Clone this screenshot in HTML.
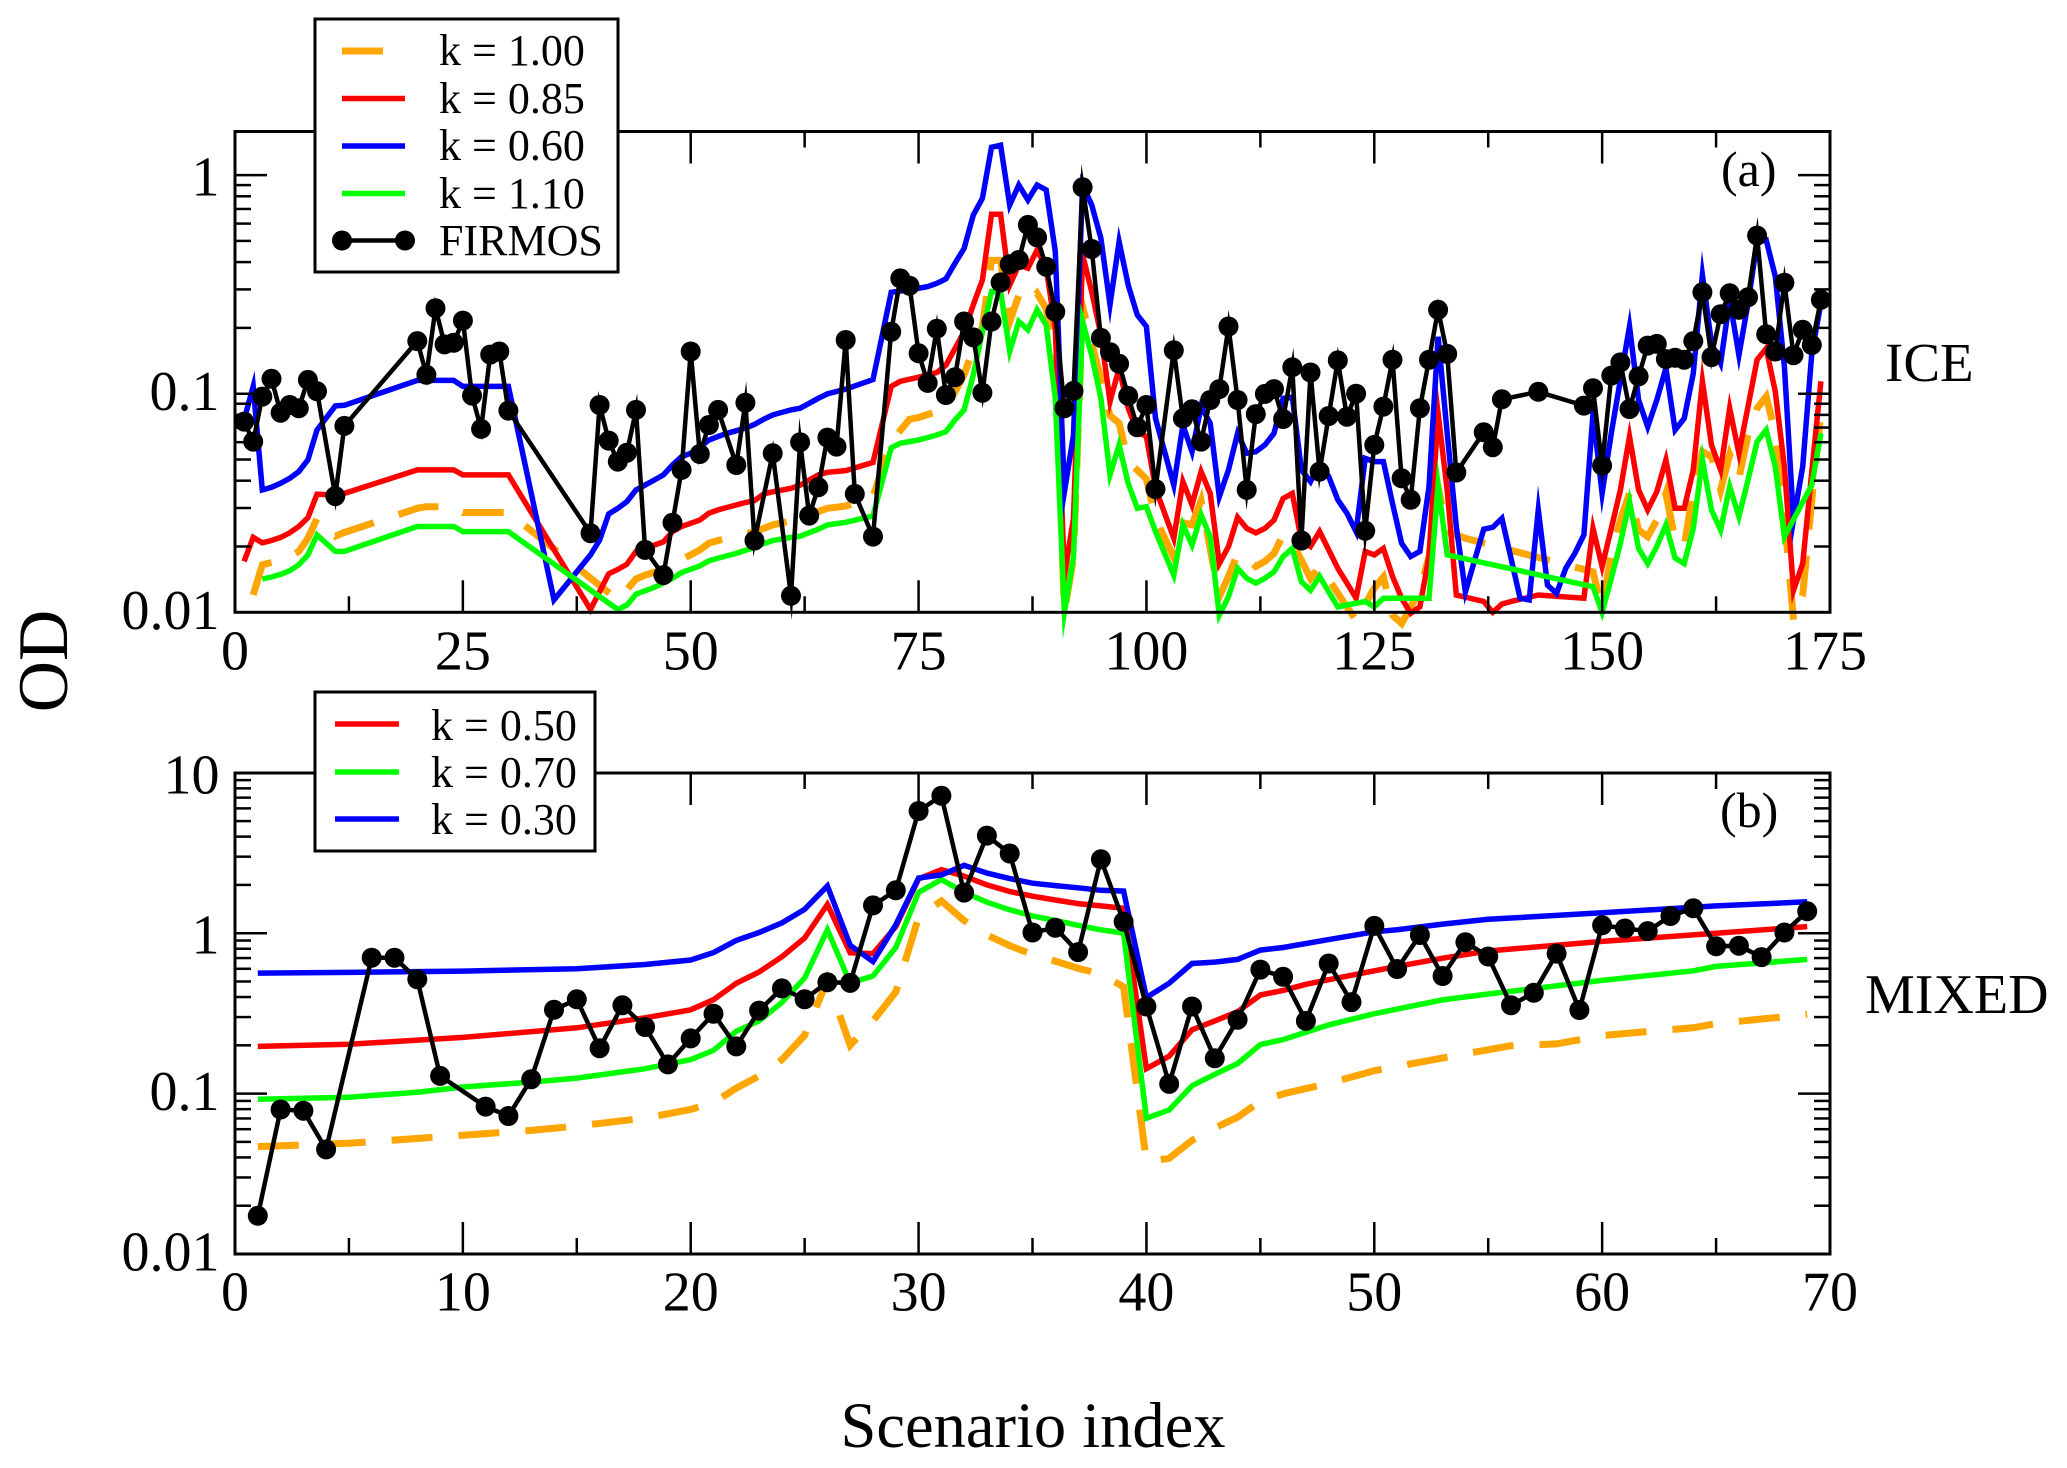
<!DOCTYPE html>
<html lang="en">
<head>
<meta charset="utf-8">
<title>OD versus scenario index</title>
<style>
html,body{margin:0;padding:0;background:#fff;}
svg{display:block;}
text{font-family:"Liberation Serif",serif;fill:#000;}
</style>
</head>
<body>
<svg id="chart" xmlns="http://www.w3.org/2000/svg" width="2067" height="1468" viewBox="0 0 2067 1468">
  <rect x="0" y="0" width="2067" height="1468" fill="#fff"/>
  <g id="panel-a"></g>
  <g id="panel-b"></g>

  <g>
    <rect x="315" y="19" width="303" height="253" fill="#fff" stroke="#000" stroke-width="3"/>
    <line x1="342" y1="51" x2="383" y2="51" stroke="#ffa500" stroke-width="7"/>
    <text x="439" y="65" font-size="44">k = 1.00</text>
    <line x1="342" y1="98.5" x2="405" y2="98.5" stroke="#ff0000" stroke-width="5.5"/>
    <text x="439" y="113" font-size="44">k = 0.85</text>
    <line x1="342" y1="146" x2="405" y2="146" stroke="#0000ff" stroke-width="5.5"/>
    <text x="439" y="160" font-size="44">k = 0.60</text>
    <line x1="342" y1="193.5" x2="405" y2="193.5" stroke="#00ff00" stroke-width="5.5"/>
    <text x="439" y="208" font-size="44">k = 1.10</text>
    <line x1="342" y1="240.5" x2="405" y2="240.5" stroke="#000" stroke-width="4.5"/>
    <circle cx="342" cy="240.5" r="10" fill="#000"/>
    <circle cx="405" cy="240.5" r="10" fill="#000"/>
    <text x="439" y="255" font-size="44">FIRMOS</text>
  </g>

  <g>
    <rect x="315" y="692" width="280" height="159" fill="#fff" stroke="#000" stroke-width="3"/>
    <line x1="335" y1="724" x2="399" y2="724" stroke="#ff0000" stroke-width="5.5"/>
    <text x="431" y="740" font-size="44">k = 0.50</text>
    <line x1="335" y1="772" x2="399" y2="772" stroke="#00ff00" stroke-width="5.5"/>
    <text x="431" y="787" font-size="44">k = 0.70</text>
    <line x1="335" y1="819" x2="399" y2="819" stroke="#0000ff" stroke-width="5.5"/>
    <text x="431" y="834" font-size="44">k = 0.30</text>
  </g>

  <text x="1721" y="186" font-size="50">(a)</text>
  <text x="1720" y="827" font-size="50">(b)</text>
  <text x="1885" y="381" font-size="55">ICE</text>
  <text x="1865" y="1013" font-size="56">MIXED</text>
  <text transform="translate(67,661) rotate(-90)" text-anchor="middle" font-size="71">OD</text>
  <text x="1033" y="1447" text-anchor="middle" font-size="64.5">Scenario index</text>
</svg>

<script>
/* ---------- Panel (a) ICE: tick labels ---------- */
const iceXTicks = [0, 25, 50, 75, 100, 125, 150, 175];
const iceYTicks = [1, 0.1, 0.01];
const iceYTickLabels = ["1", "0.1", "0.01"];

/* ---------- Panel (a) ICE: FIRMOS retrievals ---------- */
const iceFirmosIndex = [
  1,2,3,4,5,6,7,8,9,11,12,20,21,22,23,24,25,26,27,28,29,30,
  39,40,41,42,43,44,45,47,48,49,50,51,52,53,55,56,57,59,61,62,63,64,65,66,67,68,70,
  72,73,74,75,76,77,78,79,80,81,82,83,84,85,86,87,88,89,90,91,92,93,94,95,96,97,98,99,100,101,103,104,
  105,106,107,108,109,110,111,112,113,114,115,116,117,118,119,120,121,122,123,124,125,126,127,128,129,130,131,132,133,134,137,138,139,
  143,148,149,150,151,152,153,154,155,156,157,158,159,160,161,162,163,164,165,166,167,168,169,170,171,172,173,174
];
const iceFirmos = [
  .0745,.0604,.097,.117,.0819,.0888,.0858,.1156,.1026,.034,.0712,.174,.122,.246,.168,.171,.216,.098,.069,.151,.156,.0837,
  .0230,.0888,.0610,.0489,.0537,.0843,.0193,.0148,.0257,.0448,.156,.0530,.0719,.0843,.0472,.0910,.0213,.0534,.0119,.0600,.0277,.0373,.0630,.0573,.176,.0348,.0222,
  .192,.337,.312,.153,.112,.198,.0986,.119,.214,.181,.101,.214,.323,.391,.409,.592,.519,.381,.237,.0858,.103,.879,.459,.180,.155,.137,.0977,.0702,.0888,.0366,.158,.0771,
  .0849,.0604,.0936,.105,.203,.0936,.0363,.0807,.0998,.105,.0766,.132,.0213,.125,.0440,.0791,.142,.0785,.100,.0236,.0583,.0873,.143,.0410,.0327,.0858,.143,.242,.152,.0436,.0666,.0569,.0943,
  .102,.0882,.106,.0469,.121,.139,.0851,.120,.166,.169,.144,.146,.143,.174,.291,.147,.231,.288,.242,.276,.529,.187,.156,.322,.150,.196,.167,.269
];

/* ---------- Panel (a) ICE: k = 1.00 ---------- */
const iceK100Index = [
  2,3,4,5,6,7,8,9,11,12,20,21,24,25,30,42,
  44,45,47,48,50,51,52,53,55,57,58,59,61,62,64,65,67,69,70,72,
  74,75,77,78,79,80,81,82,83,84,85,86,87,88,89,90,91,92,93,94,95,96,97,98,100,101,103,104,105,106,
  108,109,110,111,112,113,114,115,116,117,118,119,120,121,122,123,125,126,127,128,130,131,132,133,135,
  149,150,151,152,153,154,155,156,157,158,159,160,161,162,163,164,165,166,167,168,169,170,171,172,173,174
];
const iceK100 = [
  .0120,.0165,.0169,.0172,.0180,.0190,.0218,.0269,.0223,.0232,.0299,.0304,.0304,.0286,.0286,.0114,
  .0142,.0148,.0157,.0167,.0183,.0193,.0207,.0213,.0222,.0234,.0242,.0251,.0262,.0274,.0289,.0299,.0306,.0327,.0338,.0604,
  .0764,.0778,.0828,.0873,.102,.122,.161,.202,.407,.407,.214,.282,.257,.288,.245,.158,.0100,.0178,.251,.170,.117,.0794,.0733,.0490,.0407,.0269,.0178,.0257,.0251,.0324,
  .0118,.0146,.0186,.0177,.0162,.0171,.0186,.0226,.0207,.0173,.0143,.0162,.0142,.0122,.0106,.0092,.0129,.0145,.0097,.0089,.0126,.0180,.0376,.0234,.0218,
  .0153,.0104,.0186,.0264,.0350,.0238,.0222,.0264,.0350,.0214,.0200,.0363,.0543,.0515,.0363,.0525,.0410,.0647,.0858,.0970,.0659,.0274,.0092,.0120,.0327,.0813
];

/* ---------- Panel (a) ICE: k = 0.85 ---------- */
const iceK085Index = [
  1,2,3,4,5,6,7,8,9,11,12,20,24,25,30,39,
  41,42,43,44,45,46,47,48,49,51,52,53,54,56,57,58,59,61,62,64,65,67,70,
  72,73,75,77,78,79,80,81,82,83,84,85,86,87,88,89,90,91,92,93,94,95,96,97,98,99,100,101,103,104,105,
  106,107,108,109,110,111,112,113,114,115,116,117,118,119,120,121,122,123,124,125,126,127,128,129,130,131,132,133,134,137,138,139,140,
  143,148,149,150,151,152,153,154,155,156,157,158,159,160,161,162,163,164,165,166,167,168,169,170,171,172,173,174
];
const iceK085 = [
  .0171,.0220,.0208,.0213,.0220,.0231,.0247,.0271,.0347,.0344,.0350,.0448,.0448,.0425,.0425,.0103,
  .0150,.0157,.0166,.0190,.0196,.0203,.0210,.0234,.0247,.0264,.0284,.0294,.0302,.0318,.0324,.0348,.0356,.0369,.0382,.0425,.0437,.0445,.0485,
  .108,.114,.119,.125,.135,.161,.192,.255,.331,.662,.662,.314,.388,.375,.455,.375,.199,.0148,.0269,.432,.293,.186,.0920,.131,.0858,.0670,.0637,.0369,.0218,.0396,.0310,
  .0440,.0350,.0167,.0200,.0272,.0242,.0231,.0242,.0264,.0332,.0350,.0214,.0200,.0234,.0193,.0159,.0136,.0116,.0190,.0183,.0196,.0146,.0116,.0099,.0106,.0180,.0813,.0363,.0120,.0112,.0100,.0109,.0112,
  .0120,.0116,.0242,.0162,.0242,.0363,.0637,.0363,.0294,.0356,.0498,.0299,.0299,.0448,.114,.0583,.0448,.0858,.0534,.0873,.143,.161,.102,.0464,.0126,.0167,.0440,.114
];

/* ---------- Panel (a) ICE: k = 0.60 ---------- */
const iceK060Index = [
  1,2,3,4,5,6,7,8,9,11,12,20,24,25,30,35,
  39,40,41,42,43,44,45,46,47,48,49,50,51,52,53,54,56,57,58,59,61,62,63,64,65,67,70,
  72,73,74,76,77,78,79,80,81,82,83,84,85,86,87,88,89,90,91,92,93,94,95,96,97,98,99,100,101,103,104,105,
  106,107,108,109,110,111,112,113,114,115,116,117,118,119,120,121,122,123,124,125,126,127,128,129,130,131,132,133,134,135,137,138,139,
  141,142,143,144,145,146,147,148,149,150,151,152,153,154,155,156,157,158,159,160,161,162,163,164,165,166,167,168,169,170,171,172,173,174
];
const iceK060 = [
  .0759,.108,.0363,.0373,.0389,.0410,.0440,.0498,.0682,.0879,.0885,.115,.115,.108,.108,.0114,
  .0183,.0214,.0282,.0299,.0321,.0363,.0382,.0403,.0425,.0472,.0515,.0534,.0569,.0614,.0637,.0659,.0695,.0724,.0764,.0800,.0843,.0858,.0904,.0953,.0998,.105,.116,
  .291,.295,.298,.309,.320,.335,.395,.462,.657,.783,1.34,1.37,.730,.901,.769,.901,.855,.447,.0356,.0647,.901,.730,.514,.255,.496,.314,.229,.203,.0771,.0382,.0719,.0543,
  .0873,.0733,.0338,.0448,.0659,.0534,.0543,.0583,.0659,.0953,.0965,.0448,.0396,.0481,.0418,.0327,.0284,.0234,.0506,.0489,.0489,.0315,.0207,.0180,.0190,.0376,.182,.0659,.0247,.0124,.0240,.0245,.0269,
  .0116,.0114,.0294,.0133,.0122,.0159,.0186,.0226,.0813,.0350,.0659,.116,.203,.0936,.0706,.0936,.131,.0682,.0771,.124,.349,.170,.138,.269,.150,.259,.496,.505,.344,.133,.0264,.0464,.153,.259
];

/* ---------- Panel (a) ICE: k = 1.10 ---------- */
const iceK110Index = [
  3,4,5,6,7,8,9,11,12,20,24,25,30,42,
  43,44,46,47,48,49,51,52,53,55,57,58,59,61,62,64,65,67,70,
  72,73,75,77,78,79,80,81,82,83,84,85,86,87,88,89,90,91,92,93,94,95,96,97,98,99,100,101,103,104,105,
  106,107,108,109,110,111,112,113,114,115,116,117,118,119,120,121,122,124,125,126,131,132,133,
  149,150,151,152,153,154,155,156,157,158,159,160,161,162,163,164,165,166,167,168,169,170,173,174
];
const iceK110 = [
  .0142,.0145,.0149,.0155,.0165,.0183,.0226,.0190,.0190,.0247,.0247,.0234,.0234,.0103,
  .0108,.0121,.0130,.0136,.0143,.0152,.0163,.0172,.0177,.0186,.0198,.0206,.0213,.0220,.0223,.0240,.0251,.0258,.0276,
  .0566,.0593,.0614,.0647,.0670,.0759,.0843,.122,.192,.293,.293,.156,.214,.196,.242,.206,.0953,.0100,.0180,.214,.150,.0953,.0425,.0583,.0389,.0299,.0304,.0234,.0148,.0251,.0203,
  .0279,.0222,.0097,.0118,.0159,.0143,.0136,.0143,.0153,.0180,.0196,.0138,.0126,.0146,.0124,.0106,.0108,.0112,.0106,.0116,.0116,.0382,.0183,
  .0131,.0100,.0143,.0207,.0321,.0196,.0167,.0200,.0251,.0177,.0167,.0242,.0498,.0294,.0238,.0376,.0274,.0403,.0604,.0682,.0464,.0222,.0382,.0659
];

/* ---------- Panel (b) MIXED: tick labels ---------- */
const mixXTicks = [0, 10, 20, 30, 40, 50, 60, 70];
const mixYTicks = [10, 1, 0.1, 0.01];
const mixYTickLabels = ["10", "1", "0.1", "0.01"];

/* ---------- Panel (b) MIXED: FIRMOS retrievals ---------- */
const mixFirmosIndex = [
  1,2,3,4,6,7,8,9,11,12,13,14,15,16,17,18,19,20,21,22,23,24,25,26,27,28,29,
  30,31,32,33,34,35,36,37,38,39,40,41,42,43,44,45,46,47,48,49,50,51,52,53,
  54,55,56,57,58,59,60,61,62,63,64,65,66,67,68,69
];
const mixFirmos = [
  .0173,.0796,.0782,.0449,.703,.703,.516,.129,.0830,.0725,.123,.333,.387,.192,.355,.260,.152,.221,.315,.197,.329,.453,.387,.495,.490,1.49,1.85,
  5.78,7.20,1.79,4.06,3.14,1.01,1.08,.762,2.89,1.18,.349,.115,.349,.166,.289,.593,.535,.284,.647,.372,1.11,.598,.975,.541,
  .879,.716,.355,.425,.746,.332,1.12,1.07,1.03,1.28,1.43,.828,.836,.710,1.01,1.37
];

/* ---------- Panel (b) MIXED: k = 1.00 ---------- */
const mixK100Index = [
  1,5,10,13,15,18,20,21,22,23,24,25,26,27,28,29,30,31,32,33,34,35,36,37,38,39,
  40,41,42,43,44,45,46,48,50,54,56,58,60,62,64,65,67,69
];
const mixK100 = [
  .0467,.0490,.0550,.0590,.0627,.0703,.0796,.0879,.108,.129,.163,.231,.511,.200,.284,.430,1.26,1.59,1.20,.975,.836,.735,.670,.605,.555,.463,
  .0376,.0395,.0511,.0611,.0713,.0897,.0995,.116,.139,.177,.199,.204,.230,.244,.257,.273,.292,.312
];

/* ---------- Panel (b) MIXED: k = 0.50 ---------- */
const mixK050Index = [
  1,5,10,15,18,20,21,22,23,24,25,26,27,28,29,30,31,32,33,34,35,36,37,38,39,
  40,41,42,43,44,45,46,47,48,50,51,53,55,60,65,69
];
const mixK050 = [
  .197,.203,.224,.257,.297,.333,.385,.487,.573,.713,.933,1.51,.755,.746,1.10,2.18,2.49,2.27,2.00,1.82,1.70,1.61,1.53,1.48,1.43,
  .143,.171,.250,.284,.324,.412,.440,.480,.513,.583,.621,.698,.774,.889,1.00,1.10
];

/* ---------- Panel (b) MIXED: k = 0.70 ---------- */
const mixK070Index = [
  1,5,8,10,13,15,18,20,21,22,23,24,25,26,27,28,29,30,31,32,33,34,35,36,37,38,39,
  40,41,42,43,44,45,46,48,50,53,55,60,64,65,69
];
const mixK070 = [
  .0922,.0949,.102,.110,.118,.125,.143,.163,.186,.245,.284,.370,.526,1.05,.490,.541,.815,1.80,2.16,1.80,1.56,1.40,1.28,1.20,1.12,1.05,1.00,
  .0702,.0791,.112,.132,.154,.202,.217,.268,.315,.384,.418,.508,.583,.621,.687
];

/* ---------- Panel (b) MIXED: k = 0.30 ---------- */
const mixK030Index = [
  1,5,10,15,18,20,21,22,23,24,25,26,27,28,29,30,31,32,33,34,35,36,37,38,39,
  40,41,42,43,44,45,46,48,50,51,53,55,60,65,69
];
const mixK030 = [
  .564,.570,.580,.601,.638,.681,.757,.902,1.01,1.16,1.41,1.97,.841,.665,1.13,2.21,2.31,2.65,2.37,2.19,2.05,1.98,1.92,1.85,1.83,
  .397,.488,.647,.660,.687,.785,.815,.912,1.02,1.05,1.14,1.22,1.34,1.48,1.57
];

const SVGNS = "http://www.w3.org/2000/svg";
const ORANGE = "#ffa500", RED = "#ff0000", BLUE = "#0000ff", GREEN = "#00ff00";

/* axis functions */
const FRAME_L = 235, FRAME_R = 1830;
function makeXAxis(max) {
  return function (v) { return FRAME_L + (FRAME_R - FRAME_L) * v / max; };
}
function makeYAxis(yAtLow, pxPerDecade, low) {
  return function (v) { return yAtLow - pxPerDecade * (Math.log10(v) - Math.log10(low)); };
}

function drawLineEl(parent, name, x1, y1, x2, y2, w) {
  const el = document.createElementNS(SVGNS, "line");
  
  
  el.setAttribute("x1", x1);
  el.setAttribute("y1", y1);
  el.setAttribute("x2", x2);
  el.setAttribute("y2", y2);
  el.setAttribute("stroke", "#000");
  el.setAttribute("stroke-width", w);
  parent.appendChild(el);
}

function drawTextEl(parent, name, x, y, str, anchor) {
  const el = document.createElementNS(SVGNS, "text");
  
  
  el.setAttribute("x", x);
  el.setAttribute("y", y);
  el.setAttribute("font-size", "56");
  el.setAttribute("text-anchor", anchor);
  el.textContent = str;
  parent.appendChild(el);
}

function drawFrame(parent, panel, top, bottom, x, y, xTicks, yTicks, yLabels, xLabelBase) {
  const frame = document.createElementNS(SVGNS, "rect");
  
  
  frame.setAttribute("x", FRAME_L);
  frame.setAttribute("y", top);
  frame.setAttribute("width", FRAME_R - FRAME_L);
  frame.setAttribute("height", bottom - top);
  frame.setAttribute("fill", "none");
  frame.setAttribute("stroke", "#000");
  frame.setAttribute("stroke-width", "3");
  parent.appendChild(frame);

  const MAJOR = 32, MINOR = 16;
  xTicks.forEach(function (t, i) {
    const px = x(t);
    if (i > 0 && i < xTicks.length - 1) {
      drawLineEl(parent, panel + '-x-major-tick-bottom', px, bottom, px, bottom - MAJOR, 2.5);
      drawLineEl(parent, panel + '-x-major-tick-top', px, top, px, top + MAJOR, 2.5);
    }
    if (i < xTicks.length - 1) {
      const mid = x((t + xTicks[i + 1]) / 2);
      drawLineEl(parent, panel + '-x-minor-tick-bottom', mid, bottom, mid, bottom - MINOR, 2.5);
      drawLineEl(parent, panel + '-x-minor-tick-top', mid, top, mid, top + MINOR, 2.5);
    }
    const nudge = t === 175 ? -5 : 0;
    drawTextEl(parent, panel + '-x-tick-label', px + nudge, xLabelBase, String(t), "middle");
  });

  yTicks.forEach(function (t, i) {
    const py = y(t);
    if (i > 0 || py > top + 2) {
      if (i < yTicks.length - 1) {
        drawLineEl(parent, panel + '-y-major-tick-left', FRAME_L, py, FRAME_L + MAJOR, py, 2.5);
        drawLineEl(parent, panel + '-y-major-tick-right', FRAME_R, py, FRAME_R - MAJOR, py, 2.5);
      }
    }
    const labelDrop = t < 1 ? 16.5 : 20.5;
    drawTextEl(parent, panel + '-y-tick-label', 219.5, py + labelDrop, yLabels[i], "end");
    if (i < yTicks.length - 1) {
      const low = yTicks[i + 1];
      for (let m = 2; m <= 9; m++) {
        const my = y(low * m);
        drawLineEl(parent, panel + '-y-minor-tick-left', FRAME_L, my, FRAME_L + MINOR, my, 2.5);
        drawLineEl(parent, panel + '-y-minor-tick-right', FRAME_R, my, FRAME_R - MINOR, my, 2.5);
      }
    }
  });
}

function drawSeries(parent, name, idx, vals, x, y, color, width, dash) {
  const n = Math.min(idx.length, vals.length);
  const pts = [];
  for (let i = 0; i < n; i++) {
    pts.push(x(idx[i]).toFixed(1) + "," + y(vals[i]).toFixed(1));
  }
  const el = document.createElementNS(SVGNS, "polyline");
  
  
  el.setAttribute("points", pts.join(" "));
  el.setAttribute("fill", "none");
  el.setAttribute("stroke", color);
  el.setAttribute("stroke-width", width);
  el.setAttribute("stroke-linejoin", "miter");
  el.setAttribute("stroke-miterlimit", "12");
  if (dash) {
    el.setAttribute("stroke-dasharray", dash);
  }
  parent.appendChild(el);
}

function drawMarkers(parent, name, idx, vals, x, y) {
  const n = Math.min(idx.length, vals.length);
  for (let i = 0; i < n; i++) {
    const c = document.createElementNS(SVGNS, "circle");
    
    
    c.setAttribute("cx", x(idx[i]).toFixed(1));
    c.setAttribute("cy", y(vals[i]).toFixed(1));
    c.setAttribute("r", "10");
    c.setAttribute("fill", "#000");
    parent.appendChild(c);
  }
}

/* panel (a) */
(function () {
  const g = document.getElementById("panel-a");
  const x = makeXAxis(175);
  const y = makeYAxis(612.3, 218.6, 0.01);
  drawSeries(g, "ice-line-k-1.00", iceK100Index, iceK100, x, y, ORANGE, 7, "41 26");
  drawSeries(g, "ice-line-k-0.85", iceK085Index, iceK085, x, y, RED, 5.5);
  drawSeries(g, "ice-line-k-0.60", iceK060Index, iceK060, x, y, BLUE, 5.5);
  drawSeries(g, "ice-line-k-1.10", iceK110Index, iceK110, x, y, GREEN, 5.5);
  drawSeries(g, "ice-line-firmos", iceFirmosIndex, iceFirmos, x, y, "#000", 4.5);
  drawMarkers(g, "ice-firmos-point", iceFirmosIndex, iceFirmos, x, y);
  drawFrame(g, "ice", 131.5, 612.3, x, y, iceXTicks, iceYTicks, iceYTickLabels, 669.5);
})();

/* panel (b) */
(function () {
  const g = document.getElementById("panel-b");
  const x = makeXAxis(70);
  const y = makeYAxis(1254, 160.4, 0.01);
  drawSeries(g, "mixed-line-k-1.00", mixK100Index, mixK100, x, y, ORANGE, 7, "41 26");
  drawSeries(g, "mixed-line-k-0.50", mixK050Index, mixK050, x, y, RED, 5.5);
  drawSeries(g, "mixed-line-k-0.70", mixK070Index, mixK070, x, y, GREEN, 5.5);
  drawSeries(g, "mixed-line-k-0.30", mixK030Index, mixK030, x, y, BLUE, 5.5);
  drawSeries(g, "mixed-line-firmos", mixFirmosIndex, mixFirmos, x, y, "#000", 4.5);
  drawMarkers(g, "mixed-firmos-point", mixFirmosIndex, mixFirmos, x, y);
  drawFrame(g, "mixed", 773, 1254, x, y, mixXTicks, mixYTicks, mixYTickLabels, 1310.5);
})();
</script>
</body>
</html>
